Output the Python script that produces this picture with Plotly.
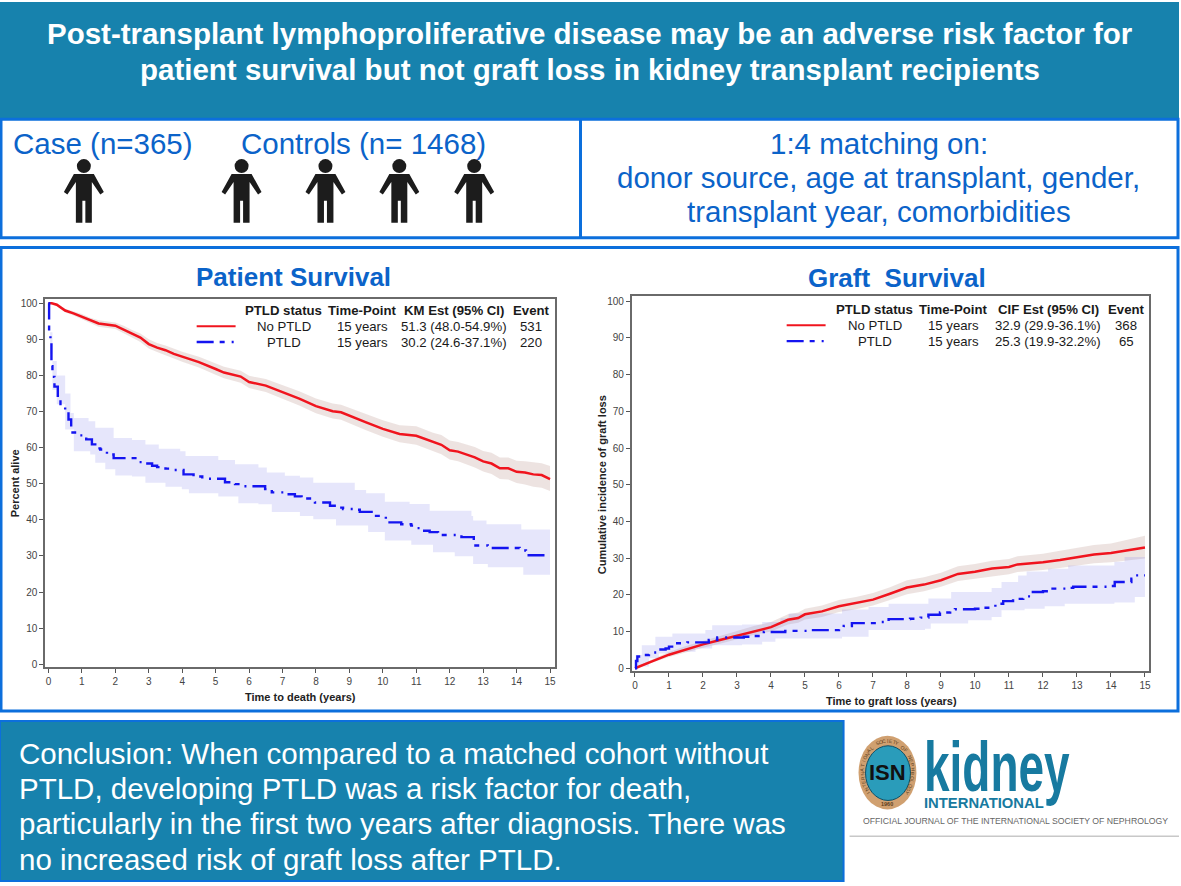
import math
import plotly.graph_objects as go

W = 1181
H = 886

FONT = "Liberation Sans"
TEAL = "#1782ad"
BLUE = "#0c6fdc"
TEXT_BLUE = "#0b63c9"

# Patient survival (Kaplan-Meier)
os_no_t = [0, 0.1, 0.25, 0.5, 0.75, 1, 1.25, 1.5, 2, 2.25, 2.5, 2.75, 3, 3.25, 3.5, 3.75, 4, 4.5, 5, 5.25, 5.75, 6, 6.5,
           7, 7.5, 8, 8.5, 8.75, 9, 9.5, 10, 10.5, 11, 11.5, 11.75, 12, 12.25, 12.75, 13, 13.25, 13.5, 13.75, 14, 14.25,
           14.5, 14.75, 15]
os_no = [100, 100, 99.6, 98, 97.2, 96.3, 95.2, 94.4, 93.8, 92.8, 91.6, 90.5, 88.7, 87.7, 87, 86, 85.2, 83.7, 81.8, 80.8,
         79.7, 78.2, 77.2, 75.5, 73.6, 71.5, 70.1, 69.8, 68.8, 67, 65.2, 63.8, 63.3, 61.5, 60.8, 59.3, 58.9, 57.3, 56.2,
         55.6, 54.3, 54.3, 53.3, 53.1, 52.6, 52.4, 51.3]
os_no_lo = [100, 100, 99.2, 97.5, 96.6, 95.6, 94.4, 93.5, 92.9, 91.8, 90.5, 89.3, 87.5, 86.5, 85.7, 84.7, 83.8, 82.2,
            80.2, 79.2, 78, 76.5, 75.4, 73.6, 71.7, 69.5, 68.1, 67.7, 66.7, 64.8, 63, 61.5, 60.8, 59, 58.2, 56.7, 56.2,
            54.5, 53.4, 52.7, 51.3, 51.2, 50.2, 49.8, 49.2, 48.9, 48]
os_no_hi = [100, 100, 100, 98.5, 97.8, 97, 96, 95.3, 94.7, 93.8, 92.6, 91.6, 90, 89, 88.3, 87.4, 86.6, 85.2, 83.4, 82.4,
            81.3, 79.9, 79, 77.4, 75.6, 73.6, 72.2, 71.9, 71, 69.2, 67.6, 66.2, 65.9, 64.1, 63.5, 62, 61.6, 60.2, 59.1,
            58.6, 57.3, 57.3, 56.4, 56.2, 55.9, 55.7, 54.9]

os_ptld_t = [0, 0.02, 0.06, 0.09, 0.12, 0.18, 0.28, 0.36, 0.5, 0.6, 0.68, 0.72, 0.9, 1.13, 1.3, 1.4, 1.55, 1.75, 1.95,
             2.6, 2.9, 3.1, 3.25, 3.5, 3.75, 4.04, 4.34, 4.6, 5.28, 5.58, 5.78, 6.48, 6.68, 7.07, 7.37, 7.57, 7.97, 8.42,
             8.56, 8.81, 9.16, 9.31, 9.76, 10.09, 10.55, 10.85, 11, 11.15, 11.4, 11.65, 12.35, 12.72, 13.14, 14.09,
             14.28, 15]
os_ptld = [100, 92, 89.8, 82.6, 79.6, 76.9, 74.4, 71.4, 70, 67.8, 65.8, 64.2, 63.4, 62.3, 60.9, 59.8, 59.5, 58.1, 57.1,
           56, 55.6, 55, 54.6, 54.2, 53.8, 52.6, 52, 51.4, 50.4, 49.9, 49.3, 48.5, 47.6, 47.1, 46.5, 45.9, 44.8, 43.9,
           43.4, 43, 42.8, 42.2, 41.1, 39.3, 38.8, 38.4, 37.7, 37, 36.6, 35.8, 35.2, 32.9, 32.2, 31.5, 30.2, 30.2]
os_ptld_hi_t = [0, 0.05, 0.12, 0.25, 0.5, 0.66, 0.76, 1.2, 1.4, 1.95, 2.5, 2.9, 3.3, 3.94, 4.1, 5.08, 5.58, 6.28, 6.53,
                7.07, 7.52, 7.92, 9.16, 9.5, 10.06, 10.8, 11.4, 12.65, 12.7, 13.1, 14.14, 15]
os_ptld_hi = [100, 92, 84, 80, 75, 69.6, 68.2, 67.3, 65.5, 62.7, 62.1, 60.9, 59.7, 59, 57.7, 56.6, 55.4, 54.5, 53.1, 52.2,
              51.7, 50.3, 48.3, 47.4, 45, 44.4, 42.5, 41.1, 39.8, 38.8, 37.3, 37.1]
os_ptld_lo_t = [0, 0.05, 0.12, 0.25, 0.5, 0.76, 1.25, 1.4, 1.7, 2, 2.5, 2.9, 3.5, 3.99, 4.2, 5.08, 5.68, 6.28, 6.68, 7.52,
                7.92, 8.6, 9.56, 10.06, 10.85, 11.5, 12.15, 12.7, 13.14, 14.2, 15]
os_ptld_lo = [100, 86, 76, 72, 65, 59, 58.1, 55.8, 54, 52.3, 52, 50.3, 49.2, 48.5, 47.4, 46.5, 44.6, 44.3, 42.2, 41.1, 40.2,
              38.4, 36.6, 34.3, 33.1, 31, 29.9, 27.8, 26.9, 24.8, 24.6]

# Graft survival (cumulative incidence)
gl_no_t = [0, 0.25, 0.5, 1, 1.5, 2, 2.5, 3, 3.5, 4, 4.5, 4.8, 5, 5.5, 6, 6.5, 7, 7.5, 8, 8.5, 9, 9.5, 10, 10.5, 11, 11.25,
           11.75, 12, 12.5, 13, 13.5, 14, 14.5, 15]
gl_no = [0, 1, 1.9, 3.7, 5.2, 6.5, 7.7, 8.9, 10.2, 11.2, 13.2, 13.7, 14.7, 15.5, 16.9, 17.7, 18.7, 20.3, 22, 22.8, 24, 25.7,
         26.3, 27.2, 27.6, 28.3, 28.6, 28.9, 29.5, 30.3, 31, 31.4, 32.2, 32.9]
gl_no_lo = [0, 0.7, 1.5, 3.1, 4.4, 5.6, 6.7, 7.9, 9.1, 10, 11.9, 12.4, 13.3, 14, 15.3, 16.1, 17.1, 18.6, 20.2, 21, 22.2,
            23.8, 24.4, 25.2, 25.6, 26.2, 26.5, 26.8, 27.3, 28, 28.6, 28.9, 29.4, 29.9]
gl_no_hi = [0, 1.4, 2.4, 4.4, 6.1, 7.5, 8.8, 10.1, 11.5, 12.6, 14.7, 15.2, 16.2, 17.1, 18.6, 19.4, 20.5, 22.1, 24, 24.8,
            26, 27.8, 28.4, 29.3, 29.8, 30.5, 30.9, 31.2, 32, 32.9, 33.6, 34, 35, 36.1]

gl_ptld_t = [0, 0.03, 0.07, 0.2, 0.41, 0.7, 0.9, 1, 1.19, 1.54, 2.17, 2.42, 3.2, 3.5, 3.79, 4.42, 5.16, 6, 6.14, 6.38, 7.12,
             7.46, 8.09, 8.4, 8.63, 8.97, 9.27, 9.41, 10, 10.24, 10.6, 10.83, 11.12, 11.42, 11.66, 12, 12.15, 12.69, 12.89,
             14.01, 14.11, 14.6, 14.74, 15]
gl_ptld = [0, 2, 3.2, 3.6, 4.3, 5.1, 5.4, 5.9, 6.8, 7.05, 7.7, 8.4, 8.6, 8.8, 9.9, 10.2, 10.4, 11, 11.5, 12.3, 12.6, 13.4,
           13.5, 13.8, 14.6, 15.2, 15.5, 16.1, 16.2, 16.5, 17.6, 18.3, 18.9, 19.6, 20.8, 21, 21.7, 21.9, 22.2, 22.4, 23.5,
           24.4, 25.3, 25.3]
gl_ptld_hi_t = [0, 0.02, 0.2, 0.6, 1.1, 2.07, 2.27, 3.15, 3.74, 4.28, 4.52, 6.09, 6.87, 7.46, 8.63, 9.3, 10.49, 10.78, 11.27,
                11.52, 12.15, 12.74, 14.1, 14.4, 15]
gl_ptld_hi = [0, 3.6, 6.3, 8.6, 9.5, 10.4, 11.7, 11.9, 12.6, 13.6, 14.9, 16, 16.7, 17.6, 19, 20.8, 21.9, 23.5, 25.3, 26.4,
              27.1, 28, 29, 30.3, 32.2]
gl_ptld_lo_t = [0, 0.02, 0.41, 0.7, 1.19, 1.78, 2.27, 3.15, 3.74, 4.13, 6.09, 6.87, 7.46, 8.53, 8.7, 9.8, 10.49, 10.78, 11.46,
                12.05, 12.64, 14.1, 14.7, 15]
gl_ptld_lo = [0, 0.5, 2.7, 4, 4.5, 5.4, 6.3, 6.5, 7.2, 8.1, 8.6, 10.4, 10.4, 10.8, 12.2, 13.1, 14, 15.8, 16.2, 16.9, 17.6,
              17.9, 19.4, 19.9]

year_ticks = list(range(0, 16))
pct_ticks = list(range(0, 101, 10))

table_header_os = ["PTLD status", "Time-Point", "KM Est (95% CI)", "Event"]
table_no_os = ["No PTLD", "15 years", "51.3 (48.0-54.9%)", "531"]
table_ptld_os = ["PTLD", "15 years", "30.2 (24.6-37.1%)", "220"]
table_header_gl = ["PTLD status", "Time-Point", "CIF Est (95% CI)", "Event"]
table_no_gl = ["No PTLD", "15 years", "32.9 (29.9-36.1%)", "368"]
table_ptld_gl = ["PTLD", "15 years", "25.3 (19.9-32.2%)", "65"]

title_lines = ["Post-transplant lymphoproliferative disease may be an adverse risk factor for",
               "patient survival but not graft loss in kidney transplant recipients"]
matching_lines = ["1:4 matching on:", "donor source, age at transplant, gender,", "transplant year, comorbidities"]
conclusion_lines = ["Conclusion: When compared to a matched cohort without",
                    "PTLD, developing PTLD was a risk factor for death,",
                    "particularly in the first two years after diagnosis. There was",
                    "no increased risk of graft loss after PTLD."]
person_x = [84, 242, 326, 400, 475]
ring_text = "INTERNATIONAL SOCIETY OF NEPHROLOGY"

DASH = "17px,6px,5px,7px,2px,6px"

# stretch the logo word vertically, the journal lettering is condensed
POST = """document.body.style.margin='0';
setTimeout(function () {
  document.querySelectorAll('text.annotation-text').forEach(function (t) {
    if (t.textContent === 'kidney') {
      var b = t.getBBox(), c = b.y + b.height / 2;
      t.setAttribute('transform', 'translate(0,' + c + ') scale(1,1.55) translate(0,' + (-c) + ')');
    }
  });
}, 50);"""


def px(x):
    return x / W


def py(y):
    return 1 - y / H


def text(s, x, y, size, color, bold=False, anchor="center", angle=0):
    if bold:
        s = "<b>" + s + "</b>"
    fig.add_annotation(text=s, x=px(x), y=py(y), xref="paper", yref="paper", showarrow=False, xanchor=anchor,
                       yanchor="middle", align=anchor, textangle=angle, font=dict(family=FONT, size=size, color=color))


def rect(x0, y0, x1, y1, fill=None, line=None, width=0):
    fig.add_shape(type="rect", xref="paper", yref="paper", x0=px(x0), x1=px(x1), y0=py(y0), y1=py(y1), layer="below",
                  fillcolor=fill if fill else "rgba(0,0,0,0)", line=dict(color=line, width=width) if line else dict(width=0))


def person(cx):
    # figure drawn around shoulder line y=173
    pts = [(-10, 0), (10, 0), (20, 18), (16.5, 20.5), (8, 8), (8, 49), (1.5, 49), (1.5, 27), (-1.5, 27), (-1.5, 49),
           (-8, 49), (-8, 8), (-16.5, 20.5), (-20, 18)]
    path = "M" + " L".join(f"{px(cx + a)},{py(173 + b)}" for a, b in pts) + " Z"
    fig.add_shape(type="path", path=path, xref="paper", yref="paper", fillcolor="#1c1c1c", line=dict(width=0))
    fig.add_shape(type="circle", xref="paper", yref="paper", x0=px(cx - 7), x1=px(cx + 7), y0=py(158), y1=py(172),
                  fillcolor="#1c1c1c", line=dict(width=0))


def add_curves(xa, ya, no_t, no, no_lo, no_hi, lo_t, lo, hi_t, hi, pt_t, pt):
    ax = dict(xaxis=xa, yaxis=ya)
    fig.add_trace(go.Scatter(x=no_t, y=no_lo, mode="lines", line=dict(width=0), hoverinfo="skip", **ax))
    fig.add_trace(go.Scatter(x=no_t, y=no_hi, mode="lines", line=dict(width=0), fill="tonexty",
                             fillcolor="rgba(190,150,145,0.27)", hoverinfo="skip", **ax))
    fig.add_trace(go.Scatter(x=lo_t, y=lo, mode="lines", line=dict(width=0, shape="hv"), hoverinfo="skip", **ax))
    fig.add_trace(go.Scatter(x=hi_t, y=hi, mode="lines", line=dict(width=0, shape="hv"), fill="tonexty",
                             fillcolor="rgba(130,130,235,0.2)", hoverinfo="skip", **ax))
    fig.add_trace(go.Scatter(x=no_t, y=no, mode="lines", name="No PTLD", line=dict(color="#f0141e", width=2.5), **ax))
    fig.add_trace(go.Scatter(x=pt_t, y=pt, mode="lines", name="PTLD",
                             line=dict(color="#1414f0", width=2.4, shape="hv", dash=DASH), **ax))


def add_table(header, row_no, row_pt, cols, ys, sample):
    for row, y, bold in [(header, ys[0], True), (row_no, ys[1], False), (row_pt, ys[2], False)]:
        for s, x in zip(row, cols):
            text(s, x, y, 13.2, "#1a1a1a", bold=bold)
    fig.add_shape(type="line", xref="paper", yref="paper", x0=px(sample[0]), x1=px(sample[1]), y0=py(ys[1]), y1=py(ys[1]),
                  line=dict(color="#f0141e", width=2))
    fig.add_shape(type="line", xref="paper", yref="paper", x0=px(sample[0]), x1=px(sample[1]), y0=py(ys[2]), y1=py(ys[2]),
                  line=dict(color="#1414f0", width=2.4, dash=DASH))


fig = go.Figure()

add_curves("x", "y", os_no_t, os_no, os_no_lo, os_no_hi, os_ptld_lo_t, os_ptld_lo, os_ptld_hi_t, os_ptld_hi, os_ptld_t, os_ptld)
add_curves("x2", "y2", gl_no_t, gl_no, gl_no_lo, gl_no_hi, gl_ptld_lo_t, gl_ptld_lo, gl_ptld_hi_t, gl_ptld_hi, gl_ptld_t, gl_ptld)

# page blocks
rect(0, 0, W, 117, fill=TEAL)
rect(1, 118, W - 1, 237, line=BLUE, width=3)
rect(580, 118, 583, 237, fill=BLUE)
rect(1, 247, W - 1, 713, line=BLUE, width=3)
rect(0, 723, 845, 884, fill=TEAL, line=BLUE, width=2)

for i, line in enumerate(title_lines):
    text(line, 591, 32 + i * 36, 29.5, "white", bold=True)

text("Case (n=365)", 11, 142, 29.5, TEXT_BLUE, anchor="left")
text("Controls (n= 1468)", 239.5, 142, 29.5, TEXT_BLUE, anchor="left")
for x in person_x:
    person(x)
for i, line in enumerate(matching_lines):
    text(line, 880, 142 + i * 34.5, 29.5, TEXT_BLUE)

text("Patient Survival", 294, 277, 26, TEXT_BLUE, bold=True)
text("Graft  Survival", 898.5, 278, 26, TEXT_BLUE, bold=True)

for i, line in enumerate(conclusion_lines):
    text(line, 17.5, 756 + i * 35.3, 29.5, "white", anchor="left")

add_table(table_header_os, table_no_os, table_ptld_os, [284, 363, 455, 532], [310, 326, 342], [197, 236])
add_table(table_header_gl, table_no_gl, table_ptld_gl, [876, 955, 1050, 1128], [309, 325, 341], [788, 827])

text("Percent alive", 15, 484, 11, "#222222", bold=True, angle=-90)
text("Cumulative incidence of graft loss", 603, 485, 11, "#222222", bold=True, angle=-90)
text("Time to death (years)", 301, 699, 11, "#222222", bold=True)
text("Time to graft loss (years)", 893, 703, 11, "#222222", bold=True)

# journal logo
fig.add_shape(type="circle", xref="paper", yref="paper", x0=px(860), x1=px(918), y0=py(738), y1=py(812),
              fillcolor="#d0a070", line=dict(width=0))
fig.add_shape(type="circle", xref="paper", yref="paper", x0=px(867), x1=px(912), y0=py(748), y1=py(803),
              fillcolor="#2a9cba", line=dict(color="#0f4f66", width=1))
text("ISN", 889, 775, 22, "#111111", bold=True)
for i, ch in enumerate(ring_text):
    if ch != " ":
        a = math.radians(-130 + 260 * i / (len(ring_text) - 1))
        text(ch, 889 + 25.5 * math.sin(a), 775 - 32 * math.cos(a), 5, "#5a3d1c", angle=math.degrees(a))
text("1960", 889, 807, 5.5, "#5a3d1c", bold=True)
text("kidney", 924, 768, 46, "#177aa0", bold=True, anchor="left")
text("INTERNATIONAL", 924, 806, 14.8, "#177aa0", bold=True, anchor="left")
text("OFFICIAL JOURNAL OF THE INTERNATIONAL SOCIETY OF NEPHROLOGY", 862, 824, 8.7, "#666666", anchor="left")
fig.add_shape(type="line", xref="paper", yref="paper", x0=px(851), x1=1, y0=py(839), y1=py(839),
              line=dict(color="#c8c8c8", width=1.5))

common = dict(showgrid=False, zeroline=False, showline=True, mirror=True, linecolor="#6a6a6a", linewidth=2, ticks="outside",
              ticklen=4, tickwidth=1, tickcolor="#555555", tickfont=dict(family=FONT, size=10, color="#444444"))

fig.update_layout(
    width=W, height=H, autosize=False, showlegend=False, margin=dict(l=0, r=0, t=0, b=0),
    paper_bgcolor="white", plot_bgcolor="white",
    xaxis=dict(domain=[px(45.5), px(556)], range=[-0.09, 15.15], tickvals=year_ticks, anchor="y", **common),
    yaxis=dict(domain=[py(669), py(299)], range=[-0.83, 101.1], tickvals=pct_ticks, anchor="x", **common),
    xaxis2=dict(domain=[px(633), px(1151)], range=[-0.09, 15.12], tickvals=year_ticks, anchor="y2", **common),
    yaxis2=dict(domain=[py(673), py(296)], range=[-0.8, 101.35], tickvals=pct_ticks, anchor="x2", **common),
)

fig.write_html("out.html", post_script=POST, config={"displayModeBar": False})
